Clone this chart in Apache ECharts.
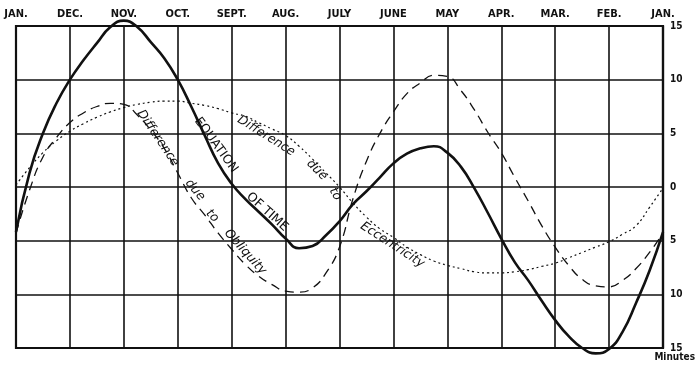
<!DOCTYPE html>
<html>
<head>
<meta charset="utf-8">
<script src="https://cdn.jsdelivr.net/npm/echarts@6/dist/echarts.min.js"></script>
<style>
html,body{margin:0;padding:0;background:#fff;}
#c{width:700px;height:367px;}
</style>
</head>
<body>
<div id="c"></div>
<script>
// Month labels along the top (time runs right to left)
var monthLabels = ['JAN.','DEC.','NOV.','OCT.','SEPT.','AUG.','JULY','JUNE','MAY','APR.','MAR.','FEB.','JAN.'];
// Positions (in months from left JAN.) of the readings, quarter-month steps
var monthPos = [];
for (var i = 0; i <= 48; i++) monthPos.push(i / 4);

// Equation of time (solid), minutes
var equationOfTime = [
  -4.2, 1.3, 5.0, 7.8, 10.0, 11.8, 13.4, 14.9, 15.5, 14.9, 13.5, 12.0,
  10.0, 7.5, 4.8, 2.2, 0.3, -1.1, -2.3, -3.5, -4.8, -5.7, -5.5, -4.5,
  -3.2, -1.6, -0.4, 0.9, 2.2, 3.1, 3.6, 3.8, 3.2, 1.9, -0.1, -2.4,
  -4.8, -7.0, -8.7, -10.6, -12.4, -13.9, -15.0, -15.5, -15.1, -13.5, -10.8, -7.8,
  -4.2
];
// Difference due to Obliquity (dashed), minutes
var obliquity = [
  -4.3, -0.3, 2.8, 4.6, 6.0, 6.9, 7.5, 7.8, 7.7, 6.7, 5.3, 3.6,
  1.3, -1.0, -2.6, -4.3, -5.8, -7.2, -8.3, -9.1, -9.7, -9.8, -9.4, -8.0,
  -5.6, -1.1, 2.4, 5.0, 7.0, 8.7, 9.7, 10.4, 10.3, 9.0, 7.2, 5.1,
  3.2, 0.9, -1.3, -3.6, -5.6, -7.3, -8.6, -9.2, -9.3, -8.7, -7.6, -6.1,
  -4.3
];
// Difference due to Eccentricity (dotted), minutes
var eccentricity = [
  0.2, 1.8, 3.2, 4.3, 5.2, 5.9, 6.5, 7.0, 7.4, 7.7, 7.9, 8.0,
  8.0, 7.8, 7.6, 7.3, 6.9, 6.6, 6.0, 5.4, 4.8, 3.8, 2.6, 1.3,
  0.0, -1.5, -2.8, -3.9, -4.7, -5.6, -6.3, -6.9, -7.3, -7.6, -7.9, -8.0,
  -8.0, -7.9, -7.7, -7.4, -7.1, -6.6, -6.1, -5.6, -5.1, -4.4, -3.6, -1.9,
  -0.1
];
// Curve annotations: text, anchor in data coords, angle (deg)
var annotations = [
  {text:'EQUATION', at:[3.71,3.91], deg:-54, italic:false},
  {text:'OF TIME', at:[4.66,-2.33], deg:-42, italic:false},
  {text:'Difference', at:[2.63,4.56], deg:-56, italic:true},
  {text:'due', at:[3.32,-0.28], deg:-50, italic:true},
  {text:'to', at:[3.64,-2.7], deg:-45, italic:true},
  {text:'Obliquity', at:[4.25,-6.05], deg:-48, italic:true},
  {text:'Difference', at:[4.64,4.75], deg:-32, italic:true},
  {text:'due', at:[5.58,1.58], deg:-45, italic:true},
  {text:'to', at:[5.92,-0.65], deg:-60, italic:true},
  {text:'Eccentricity', at:[6.98,-5.4], deg:-33, italic:true}
];

function pairs(vals){ return vals.map(function(v,i){ return [monthPos[i], v]; }); }

var chart = echarts.init(document.getElementById('c'), null, {renderer:'canvas'});
var ink = '#111';
var labelFont = "'Liberation Sans Narrow','DejaVu Sans Condensed','Liberation Sans',sans-serif";
chart.setOption({
  animation:false,
  backgroundColor:'#fff',
  grid:{left:16,right:37,top:26,bottom:19,show:true,borderColor:ink,borderWidth:2.2,backgroundColor:'transparent'},
  xAxis:{
    type:'value',min:0,max:12,interval:1,position:'top',
    axisLine:{show:true,onZero:false,lineStyle:{color:ink,width:2.2}},
    axisTick:{show:false},
    axisLabel:{margin:6,color:ink,fontSize:11,fontWeight:'bold',fontFamily:labelFont,
      formatter:function(v){return monthLabels[Math.round(v)]||'';}},
    splitLine:{show:true,lineStyle:{color:ink,width:1.6}}
  },
  yAxis:{
    type:'value',min:-15,max:15,interval:5,position:'right',
    axisLine:{show:true,onZero:false,lineStyle:{color:ink,width:2.2}},
    axisTick:{show:false},
    axisLabel:{margin:7,color:ink,fontSize:10,fontWeight:'bold',fontFamily:labelFont,
      formatter:function(v){return String(Math.abs(v));}},
    splitLine:{show:true,lineStyle:{color:ink,width:1.6}}
  },
  series:[
    {type:'line',name:'Equation of Time',data:pairs(equationOfTime),smooth:0.5,clip:false,showSymbol:false,
      lineStyle:{color:ink,width:2.6},z:5},
    {type:'line',name:'Difference due to Obliquity',data:pairs(obliquity),smooth:0.5,clip:false,showSymbol:false,
      lineStyle:{color:ink,width:1.3,type:[9,6]},z:4},
    {type:'line',name:'Difference due to Eccentricity',data:pairs(eccentricity),smooth:0.5,clip:false,showSymbol:false,
      lineStyle:{color:ink,width:1.2,type:[2,3]},z:4}
  ]
});

var g = [];
annotations.forEach(function(a){
  var p = chart.convertToPixel({gridIndex:0}, a.at);
  g.push({type:'text',x:p[0],y:p[1],rotation:a.deg*Math.PI/180,z:10,
    style:{text:a.text,fill:ink,align:'center',verticalAlign:'middle',
      font:(a.italic?'italic ':'')+'12.5px '+"'DejaVu Sans','Liberation Sans',sans-serif"}});
});
g.push({type:'text',right:5,bottom:5,style:{text:'Minutes',fill:ink,font:"bold 10px "+labelFont}});
chart.setOption({graphic:g});
</script>
</body>
</html>
